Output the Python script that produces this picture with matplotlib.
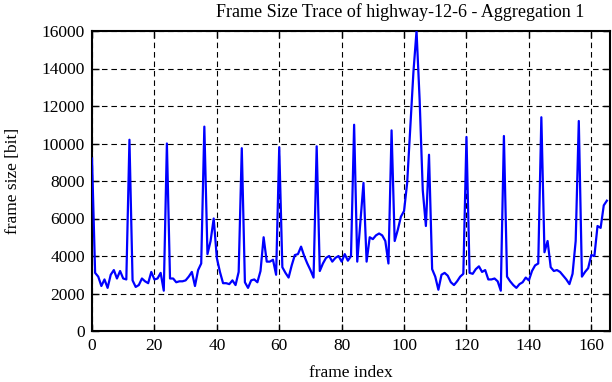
import matplotlib
matplotlib.use("Agg")
import matplotlib.pyplot as plt
import numpy as np

# frame sizes in bit, one per frame
frame_size = [
    9200, 3100, 2900, 2400, 2750, 2300, 3000, 3250, 2800, 3200,
    2800, 2750, 10200, 2700, 2350, 2450, 2800, 2650, 2550, 3150,
    2750, 2800, 3100, 2150, 10000, 2800, 2800, 2600, 2650, 2650,
    2700, 2900, 3150, 2400, 3250, 3600, 10900, 4100, 4800, 6000,
    3900, 3150, 2550, 2550, 2500, 2700, 2450, 3150, 9750, 2600,
    2300, 2700, 2750, 2600, 3200, 5000, 3700, 3700, 3800, 3000,
    9800, 3400, 3100, 2850, 3500, 4050, 4100, 4500, 4000, 3600,
    3250, 2850, 9850, 3200, 3600, 3900, 4000, 3700, 3900, 4000,
    3700, 4100, 3750, 4000, 11000, 3700, 5800, 7900, 3700, 5000,
    4900, 5100, 5200, 5100, 4800, 3600, 10700, 4800, 5400, 6100,
    6400, 7900, 10800, 13800, 16000, 12300, 7500, 5600, 9400, 3300,
    2900, 2200, 3000, 3100, 2950, 2600, 2450, 2650, 2900, 3050,
    10350, 3100, 3050, 3300, 3450, 3150, 3250, 2750, 2750, 2800,
    2650, 2150, 10400, 2900, 2650, 2450, 2300, 2500, 2600, 2850,
    2700, 3200, 3500, 3600, 11400, 4200, 4800, 3400, 3200, 3250,
    3150, 2950, 2750, 2500, 3050, 4800, 11200, 2900, 3150, 3350,
    4050, 4000, 5600, 5500, 6700, 6950,
]
frame_index = np.arange(len(frame_size))

x_ticks = [0, 20, 40, 60, 80, 100, 120, 140, 160]
y_ticks = [0, 2000, 4000, 6000, 8000, 10000, 12000, 14000, 16000]

plt.rcParams['font.family'] = ['Liberation Serif', 'DejaVu Serif']
plt.rcParams['font.size'] = 12

fig = plt.figure(figsize=(6.12, 3.82), dpi=100)
ax = fig.add_axes([92 / 612, 51 / 382, 518 / 612, 300 / 382])

ax.plot(frame_index, frame_size, color='#0000ff', lw=1.6, zorder=3)

ax.set_xlim(0, 166)
ax.set_ylim(0, 16000)
ax.set_xticks(x_ticks)
ax.set_yticks(y_ticks)
ax.grid(True, color='black', linestyle=(0, (5, 3.5)), linewidth=0.8)
ax.tick_params(direction='in', length=5, width=1, top=True, right=True,
               labelsize=12.5, pad=5)
for s in ax.spines.values():
    s.set_linewidth(1.5)

ax.set_xlabel('frame index', fontsize=12.5, labelpad=8)
ax.set_ylabel('frame size [bit]', fontsize=12.5, labelpad=15)
fig.text(400 / 612, 1 - 12 / 382, 'Frame Size Trace of highway-12-6 - Aggregation 1',
         ha='center', va='center', fontsize=13)

fig.savefig('out.png', dpi=100)
